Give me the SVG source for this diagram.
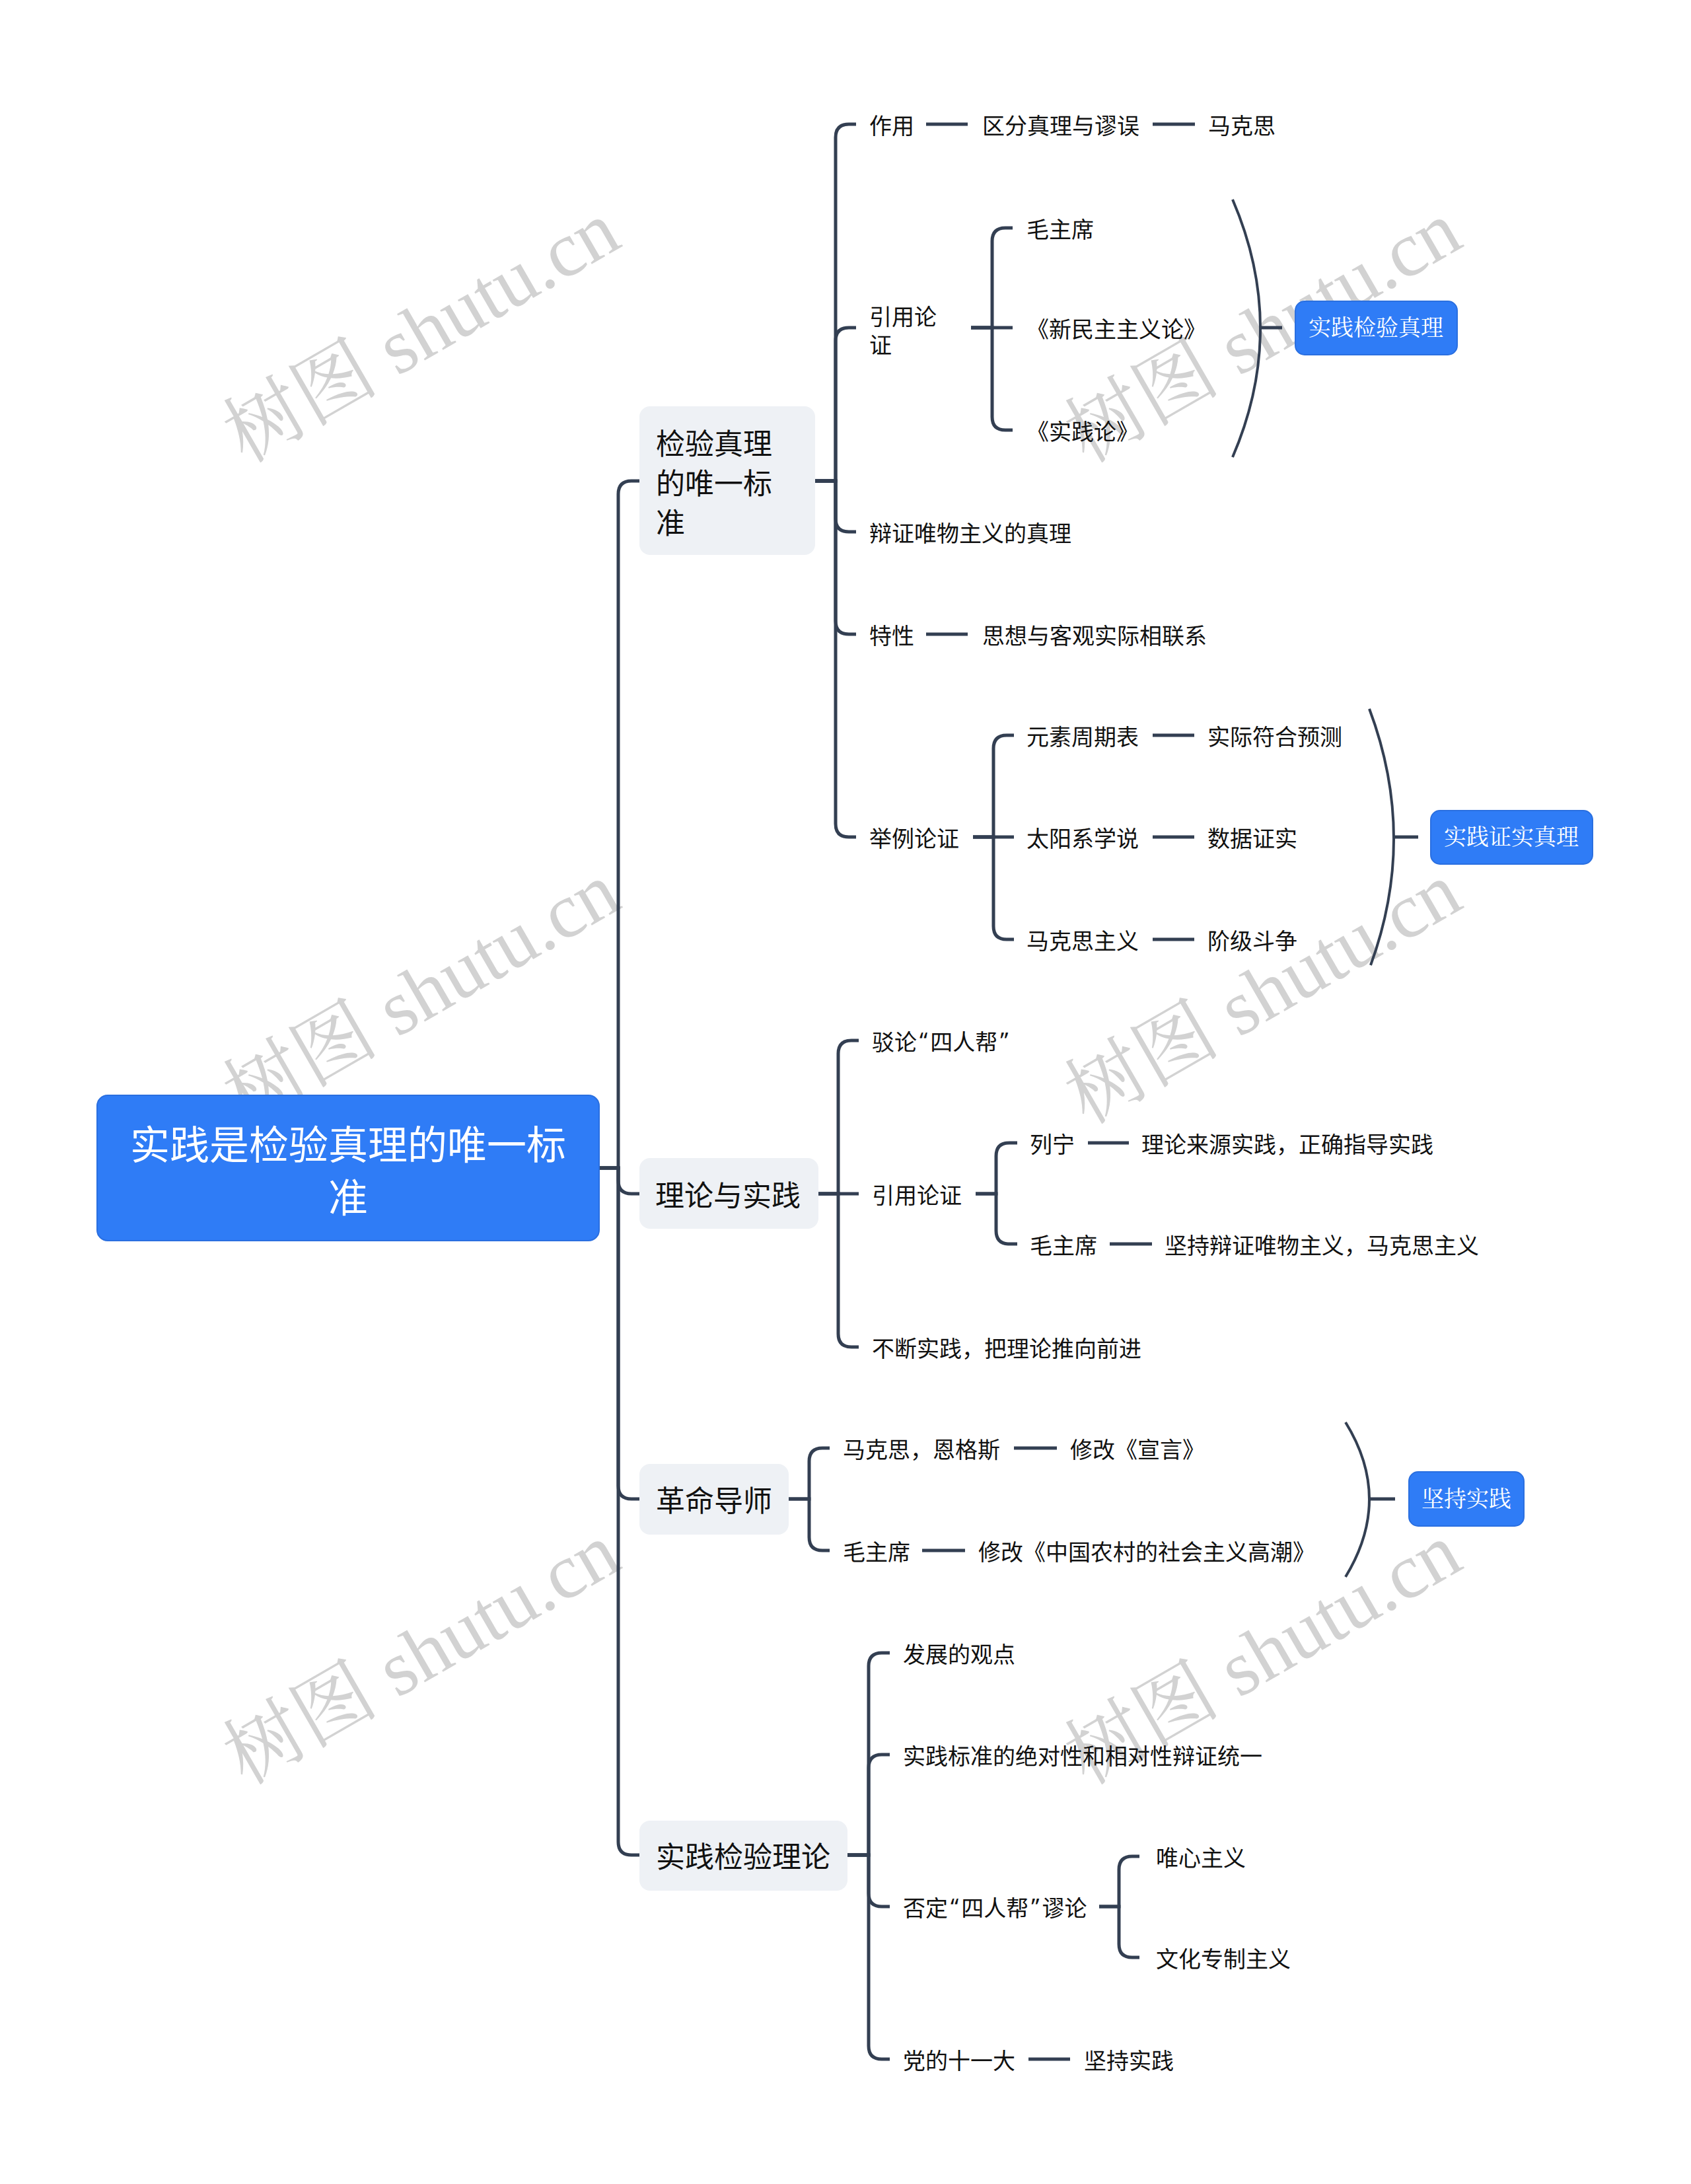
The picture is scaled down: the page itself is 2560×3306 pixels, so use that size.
<svg xmlns="http://www.w3.org/2000/svg" width="2560" height="3306" viewBox="0 0 2560 3306">
<style>
.t{font-family:"Noto Sans CJK SC","Noto Sans",sans-serif;font-size:34px;fill:#111;dominant-baseline:central}
.t1{font-family:"Noto Sans CJK SC","Noto Sans",sans-serif;font-size:44px;fill:#111;dominant-baseline:central}
.tr{font-family:"Noto Sans CJK SC","Noto Sans",sans-serif;font-size:60px;fill:#fff;dominant-baseline:central;text-anchor:middle}
.tb{font-family:"Liberation Serif","Noto Serif CJK SC","Noto Sans CJK SC",serif;font-size:34px;fill:#fff;dominant-baseline:central;text-anchor:middle}
.wm{font-family:"Liberation Serif","Noto Serif CJK SC","Noto Sans CJK SC",serif;font-size:118px;fill:#d2d2d2;text-anchor:middle}
.q{font-family:"Noto Sans","Liberation Sans",sans-serif;letter-spacing:4px}
.b1{fill:#eef1f5}
.bb{fill:#2f7cf6;stroke:#2a6fe0;stroke-width:2}
.c{fill:none;stroke:#333f52;stroke-width:5;stroke-linecap:butt}
.br{fill:none;stroke:#333f52;stroke-width:4}
</style>
<rect width="2560" height="3306" fill="#fff"/>
<g id="watermarks">
<text class="wm" x="658" y="537" transform="rotate(-30 658 537)">树图 shutu.cn</text>
<text class="wm" x="1932" y="537" transform="rotate(-30 1932 537)">树图 shutu.cn</text>
<text class="wm" x="658" y="1538" transform="rotate(-30 658 1538)">树图 shutu.cn</text>
<text class="wm" x="1932" y="1538" transform="rotate(-30 1932 1538)">树图 shutu.cn</text>
<text class="wm" x="658" y="2538" transform="rotate(-30 658 2538)">树图 shutu.cn</text>
<text class="wm" x="1932" y="2538" transform="rotate(-30 1932 2538)">树图 shutu.cn</text>
</g>
<g id="connectors">
<path class="c" d="M907,1768 H936 V748 Q936,728 956,728 H968"/>
<path class="c" d="M907,1768 H936 V1787 Q936,1807 956,1807 H968"/>
<path class="c" d="M907,1768 H936 V2249 Q936,2269 956,2269 H968"/>
<path class="c" d="M907,1768 H936 V2788 Q936,2808 956,2808 H968"/>
<path class="c" d="M1234,728 H1265 V208 Q1265,188 1285,188 H1296"/>
<path class="c" d="M1234,728 H1265 V516 Q1265,496 1285,496 H1296"/>
<path class="c" d="M1234,728 H1265 V785 Q1265,805 1285,805 H1296"/>
<path class="c" d="M1234,728 H1265 V940 Q1265,960 1285,960 H1296"/>
<path class="c" d="M1234,728 H1265 V1247 Q1265,1267 1285,1267 H1296"/>
<path class="c" d="M1402,188 H1465"/>
<path class="c" d="M1745,188 H1809"/>
<path class="c" d="M1470,496 H1502 V365 Q1502,345 1522,345 H1533"/>
<path class="c" d="M1470,496 H1533"/>
<path class="c" d="M1470,496 H1502 V631 Q1502,651 1522,651 H1533"/>
<path class="br" d="M1866,302 Q1950,497 1866,692"/>
<path class="c" d="M1908,496 H1941"/>
<path class="c" d="M1402,960 H1465"/>
<path class="c" d="M1473,1267 H1504 V1133 Q1504,1113 1524,1113 H1535"/>
<path class="c" d="M1473,1267 H1535"/>
<path class="c" d="M1473,1267 H1504 V1402 Q1504,1422 1524,1422 H1535"/>
<path class="c" d="M1745,1113 H1808"/>
<path class="c" d="M1745,1267 H1808"/>
<path class="c" d="M1745,1422 H1808"/>
<path class="br" d="M2073,1073 Q2146,1267 2075,1461"/>
<path class="c" d="M2110,1267 H2147"/>
<path class="c" d="M1239,1807 H1269 V1595 Q1269,1575 1289,1575 H1300"/>
<path class="c" d="M1239,1807 H1300"/>
<path class="c" d="M1239,1807 H1269 V2019 Q1269,2039 1289,2039 H1300"/>
<path class="c" d="M1477,1807 H1508 V1750 Q1508,1730 1528,1730 H1540"/>
<path class="c" d="M1477,1807 H1508 V1863 Q1508,1883 1528,1883 H1540"/>
<path class="c" d="M1647,1730 H1709"/>
<path class="c" d="M1680,1883 H1744"/>
<path class="c" d="M1194,2269 H1225 V2212 Q1225,2192 1245,2192 H1256"/>
<path class="c" d="M1194,2269 H1225 V2327 Q1225,2347 1245,2347 H1256"/>
<path class="c" d="M1535,2192 H1600"/>
<path class="c" d="M1396,2347 H1461"/>
<path class="br" d="M2037,2153 Q2109,2269 2037,2387"/>
<path class="c" d="M2073,2269 H2112"/>
<path class="c" d="M1283,2808 H1315 V2522 Q1315,2502 1335,2502 H1347"/>
<path class="c" d="M1283,2808 H1315 V2676 Q1315,2656 1335,2656 H1347"/>
<path class="c" d="M1283,2808 H1315 V2866 Q1315,2886 1335,2886 H1347"/>
<path class="c" d="M1283,2808 H1315 V3097 Q1315,3117 1335,3117 H1347"/>
<path class="c" d="M1664,2886 H1694 V2830 Q1694,2810 1714,2810 H1725"/>
<path class="c" d="M1664,2886 H1694 V2943 Q1694,2963 1714,2963 H1725"/>
<path class="c" d="M1557,3117 H1620"/>
</g>
<g id="root">
<rect class="bb" x="147" y="1658" width="760" height="220" rx="16"/>
<text class="tr" x="527" y="1728">实践是检验真理的唯一标</text>
<text class="tr" x="527" y="1808">准</text>
</g>
<g id="n1">
<rect class="b1" x="968" y="615" width="266" height="225" rx="16"/>
<text class="t1" x="993" y="669">检验真理</text>
<text class="t1" x="993" y="729">的唯一标</text>
<text class="t1" x="993" y="789">准</text>
</g>
<g id="n1-zuoyong"><text class="t" x="1316" y="188">作用</text></g>
<g id="n1-qufen"><text class="t" x="1487" y="188">区分真理与谬误</text></g>
<g id="n1-makesi"><text class="t" x="1829" y="188">马克思</text></g>
<g id="n1-yinyong"><text class="t" x="1316" y="477">引用论</text><text class="t" x="1316" y="520">证</text></g>
<g id="n1-mao"><text class="t" x="1554" y="345">毛主席</text></g>
<g id="n1-xinminzhu"><text class="t" x="1554" y="496">《新民主主义论》</text></g>
<g id="n1-shijianlun"><text class="t" x="1554" y="651">《实践论》</text></g>
<g id="n1-jianyan">
<rect class="bb" x="1961" y="456" width="245" height="81" rx="14"/>
<text class="tb" x="2083" y="496">实践检验真理</text>
</g>
<g id="n1-bianzheng"><text class="t" x="1316" y="805">辩证唯物主义的真理</text></g>
<g id="n1-texing"><text class="t" x="1316" y="960">特性</text></g>
<g id="n1-sixiang"><text class="t" x="1487" y="960">思想与客观实际相联系</text></g>
<g id="n1-juli"><text class="t" x="1316" y="1267">举例论证</text></g>
<g id="n1-yuansu"><text class="t" x="1554" y="1113">元素周期表</text></g>
<g id="n1-shiji"><text class="t" x="1828" y="1113">实际符合预测</text></g>
<g id="n1-taiyang"><text class="t" x="1554" y="1267">太阳系学说</text></g>
<g id="n1-shuju"><text class="t" x="1828" y="1267">数据证实</text></g>
<g id="n1-makesizhuyi"><text class="t" x="1554" y="1422">马克思主义</text></g>
<g id="n1-jieji"><text class="t" x="1828" y="1422">阶级斗争</text></g>
<g id="n1-zhengshi">
<rect class="bb" x="2166" y="1227" width="245" height="81" rx="14"/>
<text class="tb" x="2288" y="1267">实践证实真理</text>
</g>
<g id="n2">
<rect class="b1" x="968" y="1753" width="271" height="107" rx="16"/>
<text class="t1" x="992" y="1807">理论与实践</text>
</g>
<g id="n2-bolun"><text class="t" x="1320" y="1575">驳论<tspan class="q" dx="4">“</tspan>四人帮<tspan class="q" dx="4">”</tspan></text></g>
<g id="n2-yinyong"><text class="t" x="1320" y="1807">引用论证</text></g>
<g id="n2-liening"><text class="t" x="1559" y="1730">列宁</text></g>
<g id="n2-lilun"><text class="t" x="1728" y="1730">理论来源实践，正确指导实践</text></g>
<g id="n2-mao"><text class="t" x="1559" y="1883">毛主席</text></g>
<g id="n2-jianchi"><text class="t" x="1763" y="1883">坚持辩证唯物主义，马克思主义</text></g>
<g id="n2-buduan"><text class="t" x="1320" y="2039">不断实践，把理论推向前进</text></g>
<g id="n3">
<rect class="b1" x="968" y="2216" width="226" height="107" rx="16"/>
<text class="t1" x="993" y="2269">革命导师</text>
</g>
<g id="n3-makesi"><text class="t" x="1276" y="2192">马克思，恩格斯</text></g>
<g id="n3-xuanyan"><text class="t" x="1620" y="2192">修改《宣言》</text></g>
<g id="n3-mao"><text class="t" x="1276" y="2347">毛主席</text></g>
<g id="n3-gaochao"><text class="t" x="1481" y="2347">修改《中国农村的社会主义高潮》</text></g>
<g id="n3-jianchi">
<rect class="bb" x="2133" y="2228" width="174" height="82" rx="14"/>
<text class="tb" x="2220" y="2269">坚持实践</text>
</g>
<g id="n4">
<rect class="b1" x="968" y="2756" width="315" height="106" rx="16"/>
<text class="t1" x="993" y="2808">实践检验理论</text>
</g>
<g id="n4-fazhan"><text class="t" x="1367" y="2502">发展的观点</text></g>
<g id="n4-biaozhun"><text class="t" x="1367" y="2656">实践标准的绝对性和相对性辩证统一</text></g>
<g id="n4-fouding"><text class="t" x="1367" y="2886">否定<tspan class="q" dx="4">“</tspan>四人帮<tspan class="q" dx="4">”</tspan>谬论</text></g>
<g id="n4-weixin"><text class="t" x="1750" y="2810">唯心主义</text></g>
<g id="n4-wenhua"><text class="t" x="1750" y="2963">文化专制主义</text></g>
<g id="n4-dang"><text class="t" x="1367" y="3117">党的十一大</text></g>
<g id="n4-jianchi"><text class="t" x="1641" y="3117">坚持实践</text></g>
</svg>
